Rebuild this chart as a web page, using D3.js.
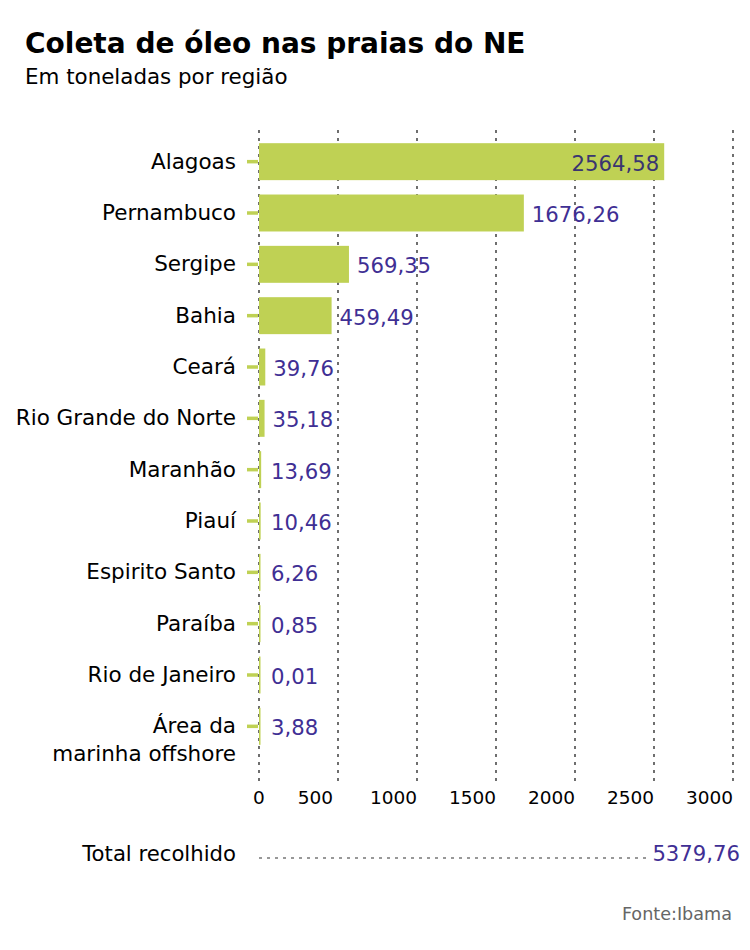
<!DOCTYPE html>
<html>
<head>
<meta charset="utf-8">
<script src="https://cdn.jsdelivr.net/npm/d3@7"></script>
<style>
  body { margin: 0; background: #fff; }
  text { font-family: "DejaVu Sans", "Noto Sans", sans-serif; }
</style>
</head>
<body>
<svg width="750" height="950"></svg>
<script>
// dados (Ibama)
const regioes = ["Alagoas", "Pernambuco", "Sergipe", "Bahia", "Ceará", "Rio Grande do Norte",
  "Maranhão", "Piauí", "Espirito Santo", "Paraíba", "Rio de Janeiro", "Área da marinha offshore"]
const toneladas = [2564.58, 1676.26, 569.35, 459.49, 39.76, 35.18, 13.69, 10.46, 6.26, 0.85, 0.01, 3.88]
const rotulos = ["2564,58", "1676,26", "569,35", "459,49", "39,76", "35,18", "13,69", "10,46", "6,26", "0,85", "0,01", "3,88"]
const ticks = [0, 500, 1000, 1500, 2000, 2500, 3000]
const totalRotulo = "5379,76"

const data = regioes.map((r, i) => ({ regiao: r, valor: toneladas[i], rotulo: rotulos[i] }))

const svg = d3.select("svg")
const verde = "#bfd154"
const roxo = "#3f2f94"

const x = d3.scaleLinear().domain([0, 3000]).range([259, 733])
const y = d3.scaleBand().domain(regioes).range([136, 752]).paddingInner(0.28).paddingOuter(0.14)

// titulo
svg.append("text").attr("x", 25).attr("y", 53)
  .style("font-size", "28px").style("font-weight", "bold").text("Coleta de óleo nas praias do NE")
svg.append("text").attr("x", 25).attr("y", 84)
  .style("font-size", "21.4px").text("Em toneladas por região")

// grade pontilhada
svg.append("g").selectAll("line").data(ticks).enter()
  .append("line")
  .attr("x1", d => x(d)).attr("x2", d => x(d))
  .attr("y1", 130).attr("y2", 781)
  .attr("stroke", "#222").attr("stroke-width", 1.3)
  .attr("stroke-dasharray", "3,5")

// rotulos do eixo
svg.append("g").selectAll("text").data(ticks).enter()
  .append("text")
  .attr("x", d => d === 0 ? x(d) : d === 500 ? x(d) - 5 : x(d))
  .attr("y", 804)
  .attr("text-anchor", d => d === 0 ? "middle" : "end")
  .style("font-size", "18.5px")
  .text(d => d)

const linhas = svg.append("g").selectAll("g").data(data).enter()
  .append("g")
  .attr("transform", d => "translate(0," + y(d.regiao) + ")")

// tracinho verde
linhas.append("line")
  .attr("x1", 247).attr("x2", 258)
  .attr("y1", y.bandwidth() / 2).attr("y2", y.bandwidth() / 2)
  .attr("stroke", verde).attr("stroke-width", 3.5)

linhas.append("rect")
  .attr("x", x(0))
  .attr("width", d => Math.max(x(d.valor) - x(0), 1.5))
  .attr("height", y.bandwidth())
  .attr("fill", verde)

// valores
linhas.append("text")
  .attr("x", d => d.valor > 2000 ? x(d.valor) - 5 : Math.max(x(d.valor), x(0) + 4) + 8)
  .attr("y", y.bandwidth() / 2 + 9)
  .attr("text-anchor", d => d.valor > 2000 ? "end" : "start")
  .attr("fill", d => d.valor > 2000 ? "#3a3570" : roxo)
  .style("font-size", "21.2px")
  .text(d => d.rotulo)

// nomes
linhas.append("text")
  .attr("x", 236)
  .attr("y", y.bandwidth() / 2 + 7)
  .attr("text-anchor", "end")
  .style("font-size", "21.5px")
  .each(function(d) {
    const t = d3.select(this)
    if (d.regiao === "Área da marinha offshore") {
      t.append("tspan").attr("x", 236).text("Área da")
      t.append("tspan").attr("x", 236).attr("dy", 28).text("marinha offshore")
    } else {
      t.text(d.regiao)
    }
  })

// total
svg.append("text").attr("x", 236).attr("y", 861).attr("text-anchor", "end")
  .style("font-size", "21.2px").text("Total recolhido")
svg.append("line").attr("x1", 259).attr("x2", 646).attr("y1", 858).attr("y2", 858)
  .attr("stroke", "#333").attr("stroke-width", 1.2).attr("stroke-dasharray", "3,5")
svg.append("text").attr("x", 740).attr("y", 861).attr("text-anchor", "end")
  .attr("fill", roxo).style("font-size", "21.2px").text(totalRotulo)

svg.append("text").attr("x", 732).attr("y", 920).attr("text-anchor", "end")
  .attr("fill", "#666").style("font-size", "17.6px").text("Fonte:Ibama")
</script>
</body>
</html>
